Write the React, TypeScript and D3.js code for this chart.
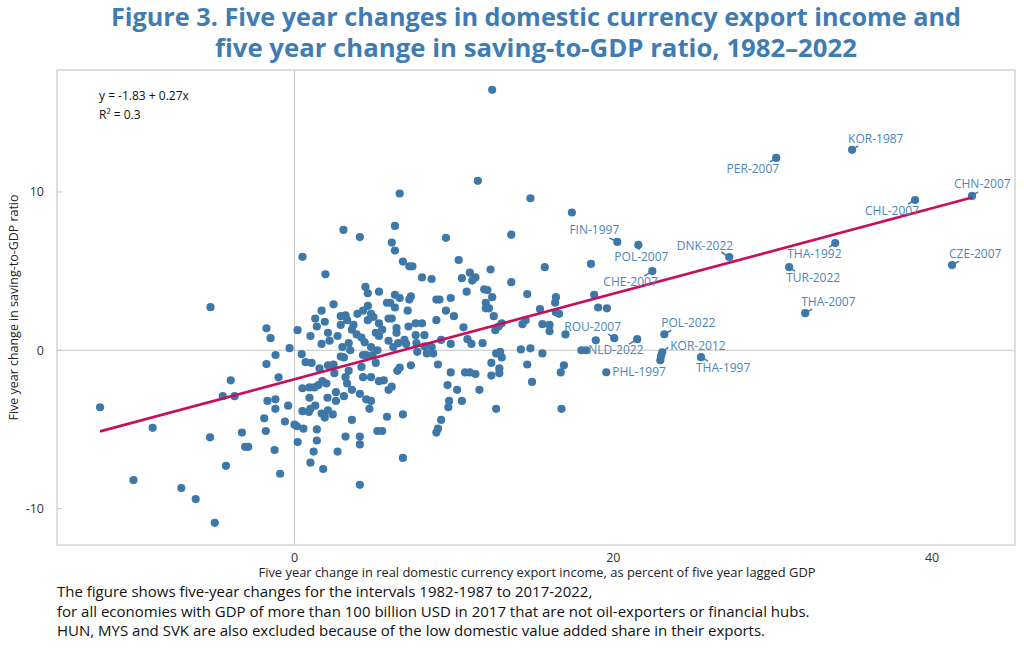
import React, { useEffect, useRef } from 'react';
import * as d3 from 'd3';

// five-year change in export income (x) vs five-year change in saving/GDP (y)
const points: [number, number][] = [
  // left of zero
  [-5.27, 2.72], [-1.76, 1.39], [-1.5, 0.76], [0.19, 1.27], [-0.31, 0.13], [-1.19, -0.3],
  [-1.76, -0.87], [-1.0, -1.71], [-4.0, -1.9], [-4.5, -2.9], [-3.76, -2.9], [-12.2, -3.6],
  [-1.7, -3.2], [-1.2, -3.1], [-1.2, -3.7], [-0.4, -3.5], [-1.9, -4.3], [-0.6, -4.5],
  [0, -4.7], [0.15, -4.8], [-8.9, -4.9], [-1.8, -5.1], [-5.3, -5.5], [-3.3, -5.2], [-3.1, -6.1],
  [-2.9, -6.1], [0.2, -5.8], [-1.25, -6.3], [-4.3, -7.3], [-0.9, -7.8], [-10.1, -8.2],
  [-7.1, -8.7], [-6.2, -9.4], [-5.0, -10.9],
  // centre, upper half
  [12.4, 16.45], [6.6, 9.9], [3.07, 7.6], [4.1, 7.15], [6.3, 7.85], [6.1, 6.8], [6.3, 6.3],
  [9.5, 7.1], [0.5, 5.9], [1.94, 4.8], [6.8, 5.6], [7.2, 5.3], [7.4, 5.3], [8.0, 4.6],
  [8.6, 4.5], [10.3, 5.7], [10.5, 4.55], [11.0, 4.9], [10.8, 3.7], [4.45, 4.0], [4.6, 3.6],
  [5.3, 3.7], [2.45, 2.9], [1.7, 2.5], [6.3, 3.5], [6.6, 3.3], [7.3, 3.4], [4.6, 2.8],
  [5.8, 3.0], [6.0, 3.0], [6.3, 2.7], [7.1, 2.5], [7.2, 3.2], [8.9, 3.2], [9.1, 3.2],
  [9.8, 3.3], [9.5, 2.5], [10.0, 2.15], [1.3, 2.0], [1.4, 1.5], [1.9, 1.8], [2.1, 1.1],
  [2.9, 2.15], [3.2, 2.2], [3.3, 1.9], [2.9, 1.6], [3.95, 2.3], [4.3, 2.5], [4.8, 2.3],
  [4.95, 2.1], [5.3, 1.7], [5.9, 2.0], [6.1, 2.0], [6.4, 1.4], [6.4, 1.1], [7.15, 1.5],
  [7.6, 1.7], [8.0, 1.7], [8.15, 0.95], [8.9, 1.9], [10.6, 1.45], [2.7, 0.9], [3.6, 1.3],
  [3.9, 1.0], [4.2, 0.8], [4.4, 0.5], [5.1, 1.1], [5.3, 0.9], [1.7, 0.4], [3.4, 0.45],
  [5.9, 0.6], [6.5, 0.45], [6.9, 0.65], [7.6, 0.95], [7.65, 0.45], [9.2, 0.65], [9.8, 0.4],
  [3.7, 1.6], [4.6, 1.9], [5.5, 1.3], [2.2, 0.6], [1.0, 0.9], [4.8, 0.2], [6.2, 0.2], [3.0, 0.2],
  // centre, lower half
  [3.5, 0], [7.0, 0.4], [8.15, 0.25], [8.6, 0.2], [0.45, -0.25], [0.7, -0.75], [1.07, -0.8],
  [1.57, -1.15], [2.1, -0.95], [2.45, -0.9], [2.9, -0.4], [3.1, -0.45], [3.4, -1.3],
  [2.5, -1.45], [4.3, -0.3], [4.5, -0.3], [4.9, -0.3], [5.2, 0], [4.2, -1.05], [5.1, -0.8],
  [4.3, -1.7], [4.8, -1.7], [6.45, -1.3], [6.6, -1.1], [7.3, -0.95], [7.7, -0.1], [8.3, -0.2],
  [8.7, -0.2], [9.0, -0.9], [9.8, -1.4], [10.7, -1.4], [0.5, -2.4], [0.94, -2.35],
  [1.25, -2.35], [1.5, -2.2], [1.75, -1.95], [2.0, -2.1], [2.6, -2.65], [3.2, -1.7],
  [3.3, -2.1], [3.6, -2.5], [4.1, -2.75], [5.3, -1.95], [5.6, -1.9], [5.9, -2.5], [6.1, -2.3],
  [9.6, -2.2], [10.2, -2.5], [0.94, -3.0], [2.07, -3.0], [2.6, -3.2], [3.1, -2.9], [4.5, -3.1],
  [4.8, -3.2], [4.7, -3.7], [9.7, -3.2], [10.5, -3.2], [9.65, -3.6], [1.3, -3.5], [0.5, -3.85],
  [0.9, -3.9], [1.0, -3.7], [1.7, -4.0], [1.9, -4.25], [2.1, -3.8], [2.4, -4.05], [3.6, -4.4],
  [5.8, -4.2], [6.8, -4.05], [9.2, -4.4], [0.56, -4.95], [1.4, -5.0], [5.2, -5.1], [5.5, -5.1],
  [8.9, -5.2], [9.0, -4.95], [1.4, -5.7], [3.2, -5.45], [4.1, -5.45], [4.1, -5.95], [1.2, -6.4],
  [2.7, -6.4], [1.0, -7.1], [6.8, -6.8], [1.8, -7.5], [4.1, -8.5],
  // right of centre
  [11.5, 10.7], [14.8, 9.6], [17.4, 8.7], [13.6, 7.3], [18.6, 5.45], [15.7, 5.25], [12.3, 5.1],
  [11.35, 4.6], [11.15, 4.4], [13.6, 4.3], [11.9, 3.85], [12.1, 3.8], [12.4, 3.35], [12.0, 3.0],
  [12.0, 2.65], [12.2, 2.65], [14.6, 3.55], [16.4, 3.35], [16.35, 3.0], [16.4, 2.4], [16.6, 2.3],
  [18.8, 3.5], [19.05, 2.7], [19.6, 2.65], [12.5, 2.15], [15.4, 2.6], [12.8, 1.5], [13.0, 1.7],
  [12.6, 1.27], [14.3, 1.65], [14.5, 1.9], [15.55, 1.65], [16.0, 1.6], [16.0, 1.2], [17.0, 1.0],
  [10.85, 0.7], [11.1, 0.4], [11.8, 0.45], [18.9, 0.63], [18.0, 0], [18.3, 0], [16.9, -0.95],
  [12.65, -0.2], [12.9, -0.1], [13.0, -0.45], [14.2, 0.05], [14.8, 0.12], [15.55, -0.2],
  [12.35, -0.8], [14.6, -0.9], [16.7, -1.4], [11.0, -1.4], [11.35, -1.5], [12.35, -1.6],
  [12.85, -1.15], [12.85, -1.45], [14.9, -2.0], [11.6, -2.5], [12.65, -3.7], [16.75, -3.7],
  [22.95, -0.63], [23.0, -0.35],
];

const labelled: { name: string; x: number; y: number }[] = [
  { name: 'KOR-1987', x: 34.98, y: 12.66 },
  { name: 'PER-2007', x: 30.22, y: 12.15 },
  { name: 'CHN-2007', x: 42.5, y: 9.75 },
  { name: 'CHL-2007', x: 38.93, y: 9.49 },
  { name: 'FIN-1997', x: 20.25, y: 6.84 },
  { name: 'POL-2007', x: 21.57, y: 6.65 },
  { name: 'DNK-2022', x: 27.27, y: 5.89 },
  { name: 'THA-1992', x: 33.92, y: 6.77 },
  { name: 'TUR-2022', x: 31.03, y: 5.25 },
  { name: 'CZE-2007', x: 41.25, y: 5.38 },
  { name: 'CHE-2007', x: 22.45, y: 5.0 },
  { name: 'THA-2007', x: 32.04, y: 2.34 },
  { name: 'ROU-2007', x: 20.06, y: 0.76 },
  { name: 'POL-2022', x: 23.2, y: 1.01 },
  { name: 'NLD-2022', x: 21.5, y: 0.7 },
  { name: 'KOR-2012', x: 23.07, y: -0.13 },
  { name: 'THA-1997', x: 25.5, y: -0.44 },
  { name: 'PHL-1997', x: 19.56, y: -1.39 },
];

const INTERCEPT = -1.83;
const SLOPE = 0.27;
const R2 = 0.3;

const xTicks = [0, 20, 40];
const yTicks = [-10, 0, 10];

const footnote = [
  'The figure shows five-year changes for the intervals 1982-1987 to 2017-2022,',
  'for all economies with GDP of more than 100 billion USD in 2017 that are not oil-exporters or financial hubs.',
  'HUN, MYS and SVK are also excluded because of the low domestic value added share in their exports.',
];

// label placement: [text dx, text dy, anchor, leader dx, leader dy] in pixels from the point
const labelLayout: Record<string, [number, number, string, number, number]> = {
  'KOR-1987': [-4, -7, 'start', 6, -4],
  'PER-2007': [3, 15, 'end', -6, 4],
  'CHN-2007': [-18, -8, 'start', 6, -4],
  'CHL-2007': [4, 15, 'end', -7, 4],
  'FIN-1997': [2, -8, 'end', -8, -4],
  'POL-2007': [-24, 16, 'start', 1, 5],
  'DNK-2022': [4, -7, 'end', -8, -5],
  'THA-1992': [-48, 15, 'start', -6, 4],
  'TUR-2022': [-3, 15, 'start', 6, 4],
  'CZE-2007': [-3, -7, 'start', 7, -4],
  'CHE-2007': [-49, 15, 'start', -8, 5],
  'THA-2007': [-4, -7, 'start', 7, -4],
  'ROU-2007': [-50, -7, 'start', -6, -4],
  'POL-2022': [-3, -7, 'start', 7, -4],
  'NLD-2022': [-49, 15, 'start', -8, 5],
  'KOR-2012': [8, -2, 'start', 6, -5],
  'THA-1997': [-5, 15, 'start', 7, 4],
  'PHL-1997': [6, 4, 'start', 0, 0],
};

const W = 1024;
const H = 662;
const FONT = '"Open Sans", "Noto Sans", sans-serif';
const DOT = '#3d78a9';
const LABEL = '#4a86b9';
const LINE = '#c8105a';
const TITLE = '#3f7cb3';

export default function App() {
  const svgRef = useRef<SVGSVGElement>(null);

  useEffect(() => {
    document.body.style.margin = '0';
    if (!svgRef.current) return;
    const svg = d3.select(svgRef.current);
    svg.selectAll('*').remove();

    const plot = { left: 57, right: 1015, top: 70, bottom: 545 };
    const x = d3.scaleLinear().domain([-14.9, 45.2]).range([plot.left, plot.right]);
    const y = d3.scaleLinear().domain([-12.3, 17.7]).range([plot.bottom, plot.top]);

    // title
    const title = svg.append('g')
      .attr('font-family', FONT)
      .attr('font-weight', 700)
      .attr('font-size', 25)
      .attr('fill', TITLE)
      .attr('text-anchor', 'middle');
    title.append('text').attr('x', 536).attr('y', 26)
      .attr('textLength', 850).attr('lengthAdjust', 'spacingAndGlyphs')
      .text('Figure 3. Five year changes in domestic currency export income and');
    title.append('text').attr('x', 536).attr('y', 57)
      .attr('textLength', 642).attr('lengthAdjust', 'spacingAndGlyphs')
      .text('five year change in saving-to-GDP ratio, 1982\u20132022');

    // frame
    svg.append('rect')
      .attr('x', plot.left).attr('y', plot.top)
      .attr('width', plot.right - plot.left).attr('height', plot.bottom - plot.top)
      .attr('fill', 'none').attr('stroke', '#d4d4d4').attr('stroke-width', 1.5);

    // zero lines
    svg.append('line')
      .attr('x1', x(0)).attr('x2', x(0)).attr('y1', plot.top).attr('y2', plot.bottom)
      .attr('stroke', '#c6c6c6').attr('stroke-width', 1);
    svg.append('line')
      .attr('x1', plot.left).attr('x2', plot.right).attr('y1', y(0)).attr('y2', y(0))
      .attr('stroke', '#c6c6c6').attr('stroke-width', 1);

    // y ticks (inward) and labels
    const axisText = svg.append('g')
      .attr('font-family', FONT).attr('font-size', 12.5).attr('fill', '#333');
    yTicks.forEach(t => {
      svg.append('line')
        .attr('x1', plot.left).attr('x2', plot.left + 5)
        .attr('y1', y(t)).attr('y2', y(t))
        .attr('stroke', '#c6c6c6');
      axisText.append('text')
        .attr('x', 44).attr('y', y(t) + 4.5)
        .attr('text-anchor', 'end').text(String(t));
    });
    xTicks.forEach(t => {
      axisText.append('text')
        .attr('x', x(t)).attr('y', 562)
        .attr('text-anchor', 'middle').text(String(t));
    });

    // axis titles
    svg.append('text')
      .attr('transform', `translate(18,${(plot.top + plot.bottom) / 2}) rotate(-90)`)
      .attr('text-anchor', 'middle')
      .attr('font-family', FONT).attr('font-size', 12).attr('fill', '#222')
      .attr('textLength', 226).attr('lengthAdjust', 'spacingAndGlyphs')
      .text('Five year change in saving-to-GDP ratio');
    svg.append('text')
      .attr('x', 537).attr('y', 577)
      .attr('text-anchor', 'middle')
      .attr('font-family', FONT).attr('font-size', 12).attr('fill', '#222')
      .attr('textLength', 557).attr('lengthAdjust', 'spacingAndGlyphs')
      .text('Five year change in real domestic currency export income, as percent of five year lagged GDP');

    // regression annotation
    const eq = svg.append('g')
      .attr('font-family', FONT).attr('font-size', 12).attr('fill', '#111');
    eq.append('text').attr('x', 99).attr('y', 100)
      .text(`y = ${INTERCEPT} + ${SLOPE}x`);
    eq.append('text').attr('x', 99).attr('y', 119)
      .text(`R\u00b2 = ${R2}`);

    // scatter
    const all = [...points, ...labelled.map(d => [d.x, d.y] as [number, number])];
    svg.append('g')
      .selectAll('circle')
      .data(all)
      .join('circle')
      .attr('cx', d => x(d[0]))
      .attr('cy', d => y(d[1]))
      .attr('r', 4.1)
      .attr('fill', DOT);

    // regression line over the data range
    const [xMin, xMax] = d3.extent(all, d => d[0]) as [number, number];
    const line = d3.line<number>()
      .x(d => x(d))
      .y(d => y(INTERCEPT + SLOPE * d));
    svg.append('path')
      .datum([xMin, xMax])
      .attr('d', line)
      .attr('fill', 'none')
      .attr('stroke', LINE)
      .attr('stroke-width', 2.6);

    // labels with short leader lines
    const lab = svg.append('g');
    labelled.forEach(d => {
      const [tdx, tdy, anchor, ldx, ldy] = labelLayout[d.name];
      const px = x(d.x);
      const py = y(d.y);
      if (ldx !== 0 || ldy !== 0) {
        lab.append('line')
          .attr('x1', px).attr('y1', py)
          .attr('x2', px + ldx).attr('y2', py + ldy)
          .attr('stroke', DOT).attr('stroke-width', 1.5);
      }
      lab.append('text')
        .attr('x', px + tdx).attr('y', py + tdy)
        .attr('text-anchor', anchor)
        .attr('font-family', FONT).attr('font-size', 12)
        .attr('fill', LABEL)
        .text(d.name);
    });

    // footnote
    const foot = svg.append('g')
      .attr('font-family', FONT).attr('font-size', 15).attr('fill', '#111');
    footnote.forEach((s, i) => {
      foot.append('text').attr('x', 57).attr('y', 597 + i * 19.5).text(s);
    });
  }, []);

  return <svg ref={svgRef} width={W} height={H} style={{ display: 'block', background: '#fff' }} />;
}
